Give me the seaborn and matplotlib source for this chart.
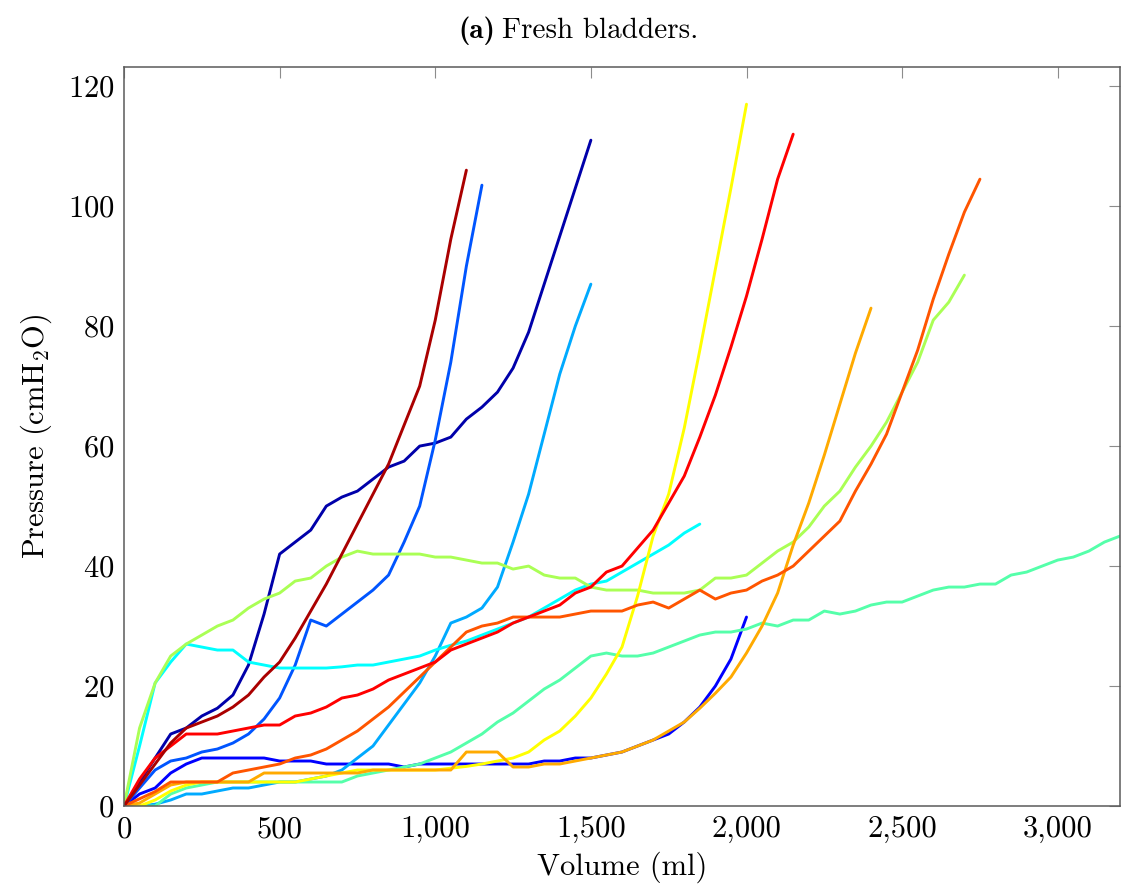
import matplotlib
matplotlib.use("Agg")
import matplotlib.pyplot as plt
from matplotlib.ticker import FuncFormatter, MultipleLocator
import seaborn as sns

# volume grid (ml), every curve sampled at 50 ml steps starting at 0
volume_ml = list(range(0, 3201, 50))

# pressure readings (cmH2O) per bladder
p_navy = [0, 4, 8, 12, 13, 15, 16.3, 18.5, 23.5, 32,
          42, 44, 46, 50, 51.5, 52.5, 54.5, 56.5, 57.5, 60,
          60.5, 61.5, 64.5, 66.5, 69, 73, 79, 87, 95, 103,
          111]
p_blue = [0, 2, 3, 5.5, 7, 8, 8, 8, 8, 8,
          7.5, 7.5, 7.5, 7, 7, 7, 7, 7, 6.5, 7,
          7, 7, 7, 7, 7, 7, 7, 7.5, 7.5, 8,
          8, 8.5, 9, 10, 11, 12, 14, 16.5, 20, 24.5,
          31.5]
p_midblue = [0, 3, 6, 7.5, 8, 9, 9.5, 10.5, 12, 14.5,
             18, 23.5, 31, 30, 32, 34, 36, 38.5, 44, 50,
             61, 74, 90, 103.5]
p_lightblue = [0, 0, 0.3, 1, 2, 2, 2.5, 3, 3, 3.5,
               4, 4, 4.5, 5, 6, 8, 10, 13.5, 17, 20.5,
               25, 30.5, 31.5, 33, 36.5, 44, 52, 62, 72, 80,
               87]
p_cyan = [0, 10, 20.5, 24, 27, 26.5, 26, 26, 24, 23.5,
          23, 23, 23, 23, 23.2, 23.5, 23.5, 24, 24.5, 25,
          26, 26.8, 27.5, 28.5, 29.5, 30.5, 31.5, 33, 34.5, 36,
          37, 37.5, 39, 40.5, 42, 43.5, 45.5, 47]
p_aqua = [0, 0, 0, 2, 3, 3.5, 4, 4, 4, 4,
          4, 4, 4, 4, 4, 5, 5.5, 6, 6.5, 7,
          8, 9, 10.5, 12, 14, 15.5, 17.5, 19.5, 21, 23,
          25, 25.5, 25, 25, 25.5, 26.5, 27.5, 28.5, 29, 29,
          29.5, 30.5, 30, 31, 31, 32.5, 32, 32.5, 33.5, 34,
          34, 35, 36, 36.5, 36.5, 37, 37, 38.5, 39, 40,
          41, 41.5, 42.5, 44, 45]
p_lime = [0, 13, 20.5, 25, 27, 28.5, 30, 31, 33, 34.5,
          35.5, 37.5, 38, 40, 41.5, 42.5, 42, 42, 42, 42,
          41.5, 41.5, 41, 40.5, 40.5, 39.5, 40, 38.5, 38, 38,
          36.5, 36, 36, 36, 35.5, 35.5, 35.5, 36, 38, 38,
          38.5, 40.5, 42.5, 44, 46.5, 50, 52.5, 56.5, 60, 64,
          69, 74, 81, 84, 88.5]
p_yellow = [0, 0, 1, 2.5, 3.5, 4, 4, 4, 4, 4,
            4, 4, 4.5, 5, 5.5, 6, 6, 6, 6, 6,
            6, 6.3, 6.6, 7, 7.5, 8, 9, 11, 12.5, 15,
            18, 22, 26.5, 35, 45, 52, 63, 76, 89.5, 103,
            117]
p_orange = [0, 0.5, 2, 3.5, 4, 4, 4, 4, 4, 5.5,
            5.5, 5.5, 5.5, 5.5, 5.5, 5.5, 6, 6, 6, 6,
            6, 6, 9, 9, 9, 6.5, 6.5, 7, 7, 7.5,
            8, 8.5, 9, 10, 11, 12.5, 14, 16.3, 18.8, 21.5,
            25.5, 30, 35.5, 43.5, 50.5, 58.5, 67, 75.5, 83]
p_redorange = [0, 1.2, 2.4, 4, 4, 4, 4, 5.5, 6, 6.5,
               7, 8, 8.5, 9.5, 11, 12.5, 14.5, 16.5, 19, 21.5,
               24, 26.5, 29, 30, 30.5, 31.5, 31.5, 31.5, 31.5, 32,
               32.5, 32.5, 32.5, 33.5, 34, 33, 34.5, 36, 34.5, 35.5,
               36, 37.5, 38.5, 40, 42.5, 45, 47.5, 52.5, 57, 62,
               69, 76, 84.5, 92, 99, 104.5]
p_red = [0, 4.5, 8, 10, 12, 12, 12, 12.5, 13, 13.5,
         13.5, 15, 15.5, 16.5, 18, 18.5, 19.5, 21, 22, 23,
         24, 26, 27, 28, 29, 30.5, 31.5, 32.5, 33.5, 35.5,
         36.5, 39, 40, 43, 46, 50.5, 55, 61.5, 68.5, 76.5,
         85, 94.5, 104.5, 112]
p_darkred = [0, 3.5, 7, 10.5, 13, 14, 15, 16.5, 18.5, 21.5,
             24, 28, 32.5, 37, 42, 47, 52, 57, 63.5, 70,
             81, 94.5, 106]

curves = [p_navy, p_blue, p_midblue, p_lightblue, p_cyan, p_aqua,
          p_lime, p_yellow, p_orange, p_redorange, p_red, p_darkred]
colors = ["#0000AA", "#0000FF", "#0055FF", "#00AAFF", "#00FFFF", "#55FFAA",
          "#AAFF55", "#FFFF00", "#FFAA00", "#FF5500", "#FF0000", "#AA0000"]

sns.set_theme(style="white")
plt.rcParams["font.family"] = ["cmr10", "DejaVu Serif"]
plt.rcParams["mathtext.fontset"] = "cm"
plt.rcParams["axes.formatter.use_mathtext"] = True
plt.rcParams["axes.unicode_minus"] = False
plt.rcParams["text.color"] = "black"
plt.rcParams["axes.labelcolor"] = "black"

fig = plt.figure(figsize=(11.21, 8.93), dpi=100)
ax = fig.add_axes([124 / 1121, 1 - 806 / 893, 996 / 1121, 739 / 893])

for pres, col in zip(curves, colors):
    sns.lineplot(x=volume_ml[:len(pres)], y=pres, color=col, lw=2.1,
                 estimator=None, sort=False, ax=ax)

ax.set_xlim(0, 3200)
ax.set_ylim(0, 123.2)
ax.xaxis.set_major_locator(MultipleLocator(500))
ax.yaxis.set_major_locator(MultipleLocator(20))
ax.xaxis.set_major_formatter(FuncFormatter(lambda v, p: f"{int(v):,}"))
ax.tick_params(direction="in", top=True, right=True, length=8, width=0.8,
               color="#8c8c8c", labelsize=22, labelcolor="black", pad=7)
for sp in ax.spines.values():
    sp.set_color("#5a5a5a")
    sp.set_linewidth(1.1)

ax.set_xlabel("Volume (ml)", fontsize=22, labelpad=6, color="black")
ax.set_ylabel(r"Pressure (cmH$_2$O)", fontsize=22, labelpad=10, color="black")

# subcaption: bold "(a)" then the caption text
fig.text(495 / 1121, 0.966, "(a)", ha="right", va="center", fontsize=21,
         family=["cmb10", "DejaVu Serif"], color="black")
fig.text(502 / 1121, 0.966, "Fresh bladders.", ha="left", va="center",
         fontsize=21, color="black")

fig.savefig("out.png", dpi=100)
